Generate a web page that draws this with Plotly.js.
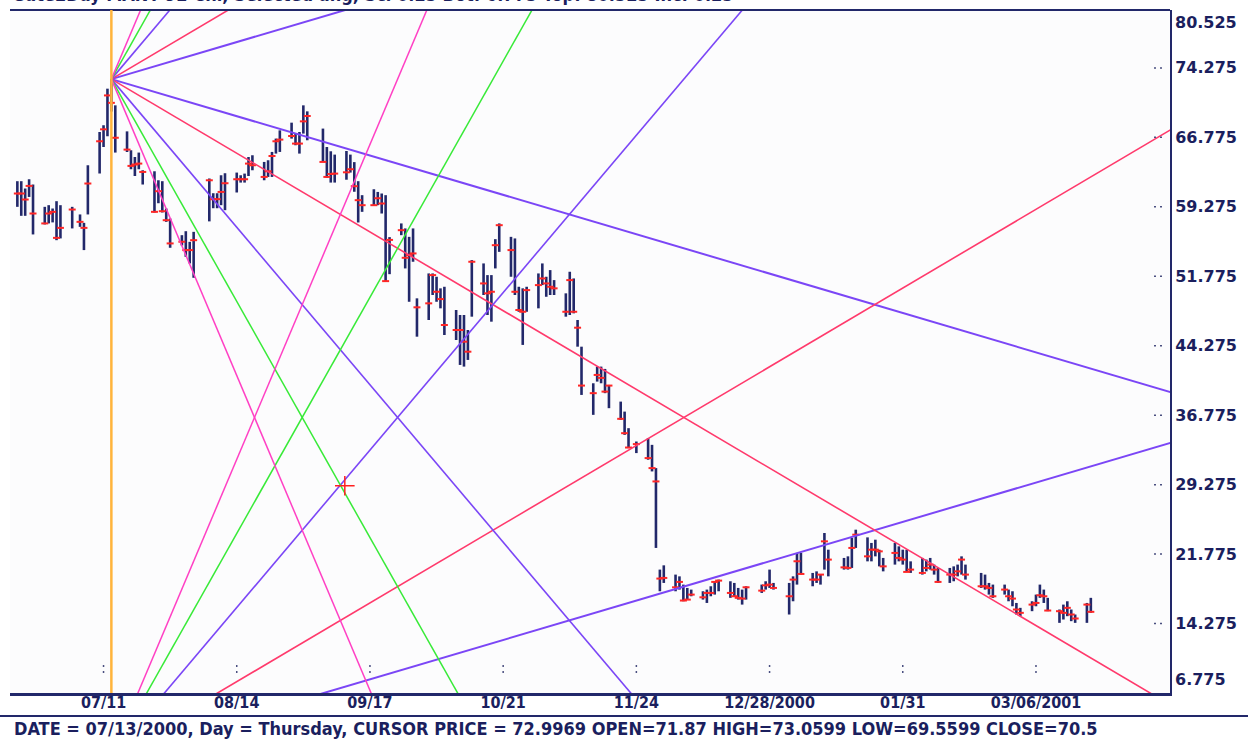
<!DOCTYPE html>
<html>
<head>
<meta charset="utf-8">
<script src="https://cdn.plot.ly/plotly-3.0.1.min.js"></script>
<style>
html,body{margin:0;padding:0;background:#ffffff;overflow:hidden;}
#chart{width:1248px;height:740px;}
</style>
</head>
<body>
<div id="chart"></div>
<script>
// ---------------- DATA ----------------
const dates = [
 '2000-06-19','2000-06-20','2000-06-21','2000-06-22','2000-06-23',
 '2000-06-26','2000-06-27','2000-06-28','2000-06-29','2000-06-30',
 '2000-07-03','2000-07-05','2000-07-06','2000-07-07',
 '2000-07-10','2000-07-11','2000-07-12','2000-07-13','2000-07-14',
 '2000-07-17','2000-07-18','2000-07-19','2000-07-20','2000-07-21',
 '2000-07-24','2000-07-25','2000-07-26','2000-07-27','2000-07-28',
 '2000-07-31','2000-08-01','2000-08-02','2000-08-03',
 '2000-08-07','2000-08-08','2000-08-09','2000-08-10','2000-08-11',
 '2000-08-14','2000-08-15','2000-08-16','2000-08-17','2000-08-18',
 '2000-08-21','2000-08-22','2000-08-23','2000-08-24','2000-08-25',
 '2000-08-28','2000-08-29','2000-08-30','2000-08-31','2000-09-01',
 '2000-09-05','2000-09-06','2000-09-07','2000-09-08',
 '2000-09-11','2000-09-12','2000-09-13','2000-09-14','2000-09-15',
 '2000-09-18','2000-09-19','2000-09-20','2000-09-21','2000-09-22',
 '2000-09-25','2000-09-26','2000-09-27','2000-09-28','2000-09-29',
 '2000-10-02','2000-10-03','2000-10-04','2000-10-05','2000-10-06',
 '2000-10-09','2000-10-10','2000-10-11','2000-10-12','2000-10-13',
 '2000-10-16','2000-10-17','2000-10-18','2000-10-19','2000-10-20',
 '2000-10-23','2000-10-24','2000-10-25','2000-10-26','2000-10-27',
 '2000-10-30','2000-10-31','2000-11-01','2000-11-02','2000-11-03',
 '2000-11-06','2000-11-07','2000-11-08','2000-11-09','2000-11-10',
 '2000-11-13','2000-11-14','2000-11-15','2000-11-16','2000-11-17',
 '2000-11-20','2000-11-21','2000-11-22','2000-11-24',
 '2000-11-27','2000-11-28','2000-11-29','2000-11-30','2000-12-01',
 '2000-12-04','2000-12-05','2000-12-06','2000-12-07','2000-12-08',
 '2000-12-11','2000-12-12','2000-12-13','2000-12-14','2000-12-15',
 '2000-12-18','2000-12-19','2000-12-20','2000-12-21','2000-12-22',
 '2000-12-26','2000-12-27','2000-12-28','2000-12-29',
 '2001-01-02','2001-01-03','2001-01-04','2001-01-05',
 '2001-01-08','2001-01-09','2001-01-10','2001-01-11','2001-01-12',
 '2001-01-16','2001-01-17','2001-01-18','2001-01-19',
 '2001-01-22','2001-01-23','2001-01-24','2001-01-25','2001-01-26',
 '2001-01-29','2001-01-30','2001-01-31','2001-02-01','2001-02-02',
 '2001-02-05','2001-02-06','2001-02-07','2001-02-08','2001-02-09',
 '2001-02-12','2001-02-13','2001-02-14','2001-02-15','2001-02-16',
 '2001-02-20','2001-02-21','2001-02-22','2001-02-23',
 '2001-02-26','2001-02-27','2001-02-28','2001-03-01','2001-03-02',
 '2001-03-05','2001-03-06','2001-03-07','2001-03-08','2001-03-09',
 '2001-03-12','2001-03-13','2001-03-14','2001-03-15','2001-03-16',
 '2001-03-19','2001-03-20'
];
const highs = [
 62.04,62.04,61.25,62.25,61.68,
 59.27,59.45,59.09,59.88,59.45,
 59.27,58.45,57.54,63.76,
 67.35,68.08,72.03,73.06,70.23,
 67.42,65.38,64.65,65.13,63.22,
 63.11,62.14,62.04,59.09,58.01,
 56.21,56.64,55.49,56.57,
 62.33,60.74,60.74,62.68,62.90,
 62.97,62.68,62.86,64.65,64.84,
 64.12,64.30,65.20,66.64,67.53,
 68.36,67.18,67.35,70.23,69.58,
 67.72,65.73,65.27,64.91,
 65.30,64.91,64.10,62.04,60.53,
 61.17,60.88,60.71,60.53,56.00,
 57.48,56.94,56.03,56.94,49.39,
 52.08,52.08,51.72,50.47,50.64,
 48.13,47.59,47.59,45.97,53.52,
 53.16,51.90,51.90,55.78,57.48,
 56.03,55.86,50.64,50.47,50.64,
 52.08,53.16,51.72,52.44,51.36,
 49.93,52.26,51.54,47.05,44.17,
 40.22,42.02,42.02,41.77,40.04,
 38.24,37.16,35.37,33.93,
 34.30,33.57,31.06,20.10,20.56,
 19.56,19.37,18.48,18.12,17.94,
 17.76,17.94,18.30,18.84,19.02,
 18.84,18.66,18.12,17.94,18.30,
 18.48,18.84,20.10,18.66,
 18.66,19.37,21.90,21.90,
 19.74,19.91,19.56,24.05,22.25,
 21.36,21.53,23.51,24.41,
 23.58,22.98,23.33,22.25,21.36,
 22.98,22.61,22.25,22.25,20.99,
 21.36,21.18,21.36,20.64,20.28,
 20.28,20.45,20.64,21.53,20.64,
 19.74,19.56,18.66,18.48,
 18.48,17.94,17.76,16.50,15.97,
 16.68,17.40,18.48,17.94,17.05,
 15.79,16.32,16.68,15.79,15.25,
 16.50,17.05
];
const lows = [
 59.27,58.30,58.30,60.34,56.29,
 57.37,57.48,57.59,55.67,55.86,
 56.94,57.11,54.60,58.45,
 62.87,65.73,66.89,69.56,65.13,
 65.19,63.33,62.60,63.33,61.68,
 58.66,59.66,58.66,57.65,54.85,
 55.10,53.87,53.16,51.61,
 57.70,59.12,59.12,59.45,58.91,
 60.82,61.89,61.89,62.60,63.22,
 62.14,62.50,62.50,65.02,65.20,
 66.64,65.92,65.02,67.18,66.46,
 64.12,62.39,61.89,61.89,
 62.20,62.97,60.90,57.58,58.73,
 59.38,59.45,58.55,51.18,52.00,
 56.21,52.62,49.02,53.34,45.25,
 47.05,49.75,49.02,48.31,45.43,
 44.89,42.20,42.02,42.74,47.41,
 49.75,47.59,46.87,52.62,54.41,
 51.72,49.75,47.94,44.36,47.94,
 48.31,50.82,49.56,49.75,49.75,
 47.41,47.59,47.77,44.17,38.96,
 36.81,40.40,40.22,39.15,37.53,
 36.27,34.65,33.22,32.68,
 31.96,30.70,22.44,17.76,18.66,
 17.76,17.94,16.68,16.86,17.22,
 16.86,16.50,17.22,17.40,17.76,
 17.05,17.22,16.86,16.32,16.86,
 17.58,17.94,18.12,17.94,
 15.25,16.68,18.48,19.56,
 18.30,18.66,18.48,20.10,19.37,
 20.10,20.10,20.28,22.44,
 20.99,20.99,21.53,20.45,19.91,
 20.64,20.99,20.64,19.91,19.74,
 19.56,19.91,20.10,19.56,18.66,
 18.66,18.84,19.37,19.56,19.02,
 18.12,17.94,17.40,17.05,
 17.40,16.68,16.14,15.25,15.07,
 15.61,16.14,17.05,16.50,15.61,
 14.35,14.71,15.07,14.53,14.35,
 14.35,15.43
];
const closes = [
 60.71,60.71,60.06,61.53,58.55,
 57.48,58.55,58.73,55.92,57.00,
 58.98,57.65,57.00,61.79,
 66.35,67.64,71.30,70.50,66.73,
 65.45,63.69,63.84,63.94,63.04,
 58.73,60.96,58.80,57.83,55.32,
 55.50,54.60,54.60,55.67,
 62.14,60.09,60.10,60.88,61.82,
 62.25,62.25,62.25,63.94,63.76,
 62.50,63.11,64.76,66.35,66.53,
 66.92,66.10,66.10,68.50,69.08,
 64.12,62.50,62.82,62.86,
 63.00,63.33,61.50,59.99,59.45,
 59.45,60.20,59.63,51.25,55.70,
 56.75,53.77,54.06,54.24,48.42,
 48.85,51.90,50.10,49.31,46.51,
 45.97,45.97,44.71,43.63,53.34,
 51.00,49.93,50.10,55.13,57.29,
 54.60,50.10,48.13,47.94,50.28,
 50.82,51.54,51.00,50.64,50.47,
 47.94,51.36,47.94,46.22,39.97,
 39.15,41.12,40.80,39.32,39.97,
 36.38,34.83,33.28,33.65,
 32.14,31.06,29.62,19.13,19.20,
 18.19,18.77,16.76,16.86,17.40,
 17.11,17.58,17.58,18.77,18.91,
 17.58,17.22,17.05,16.97,18.19,
 17.83,18.40,18.48,18.12,
 17.22,19.02,21.00,19.63,
 19.02,19.02,19.56,23.15,21.18,
 20.34,20.28,22.44,23.87,
 21.53,22.25,22.25,22.07,20.45,
 21.90,21.36,21.18,19.85,20.10,
 19.74,20.28,20.64,20.10,18.77,
 19.56,19.56,19.91,21.18,19.56,
 18.30,18.30,18.12,17.22,
 17.94,17.22,16.97,15.79,15.43,
 16.32,16.50,17.33,17.22,15.68,
 15.61,15.43,15.97,15.25,14.82,
 16.32,15.54
];

// Gann fans: top fan from the 07/13/2000 high, bottom fan from price 0 on the same date
const pivotDate = '2000-07-13';
const pivotPrice = 73.06;
const baseDate = '2000-07-13';
const basePrice = 0;
const gannSlopes = [0.125, 0.25, 0.5, 0.75, 1.0];          // price per day: 1x2, 1x1, 2x1, 3x1, 4x1
const gannColors = ['#7b46f6', '#ff3a6c', '#7b46f6', '#38ea38', '#ff40c4'];
const gannWidths = [2, 1.6, 1.6, 1.5, 1.5];

const xTickVals = ['2000-07-11','2000-08-14','2000-09-17','2000-10-21','2000-11-24','2000-12-28','2001-01-31','2001-03-06'];
const xTickText = ['07/11','08/14','09/17','10/21','11/24','12/28/2000','01/31','03/06/2001'];
const yTickVals = [14.275, 21.775, 29.275, 36.775, 44.275, 51.775, 59.275, 66.775, 74.275];
const yMin = 6.775, yMax = 80.525;
const xRange = ['2000-06-17 03:00', '2001-04-09 05:00'];
const cursorDate = '2000-09-10 14:00', cursorPrice = 29.15;
const titleText = 'Gate2Day MANT 92 Chl, Selected ang, Scl 0.25 Bot: 6.775 Top: 80.525 Inc: 0.25';
const statusText = 'DATE = 07/13/2000, Day = Thursday, CURSOR PRICE = 72.9969 OPEN=71.87 HIGH=73.0599 LOW=69.5599 CLOSE=70.5';

// ---------------- BUILD ----------------
function addDays(s, n) {
  const t = Date.parse(s + 'T00:00:00Z') + n * 86400000;
  return new Date(t).toISOString().slice(0, 16).replace('T', ' ');
}

const NAVY = '#22286a';
const TXT = '#1b1f5e';
const narrow = 'Liberation Sans Narrow, Arial Narrow, DejaVu Sans Condensed, sans-serif';

const traces = [];

// high-low bars
const bx = [], by = [];
for (let i = 0; i < dates.length; i++) {
  bx.push(dates[i], dates[i], null);
  by.push(highs[i], lows[i], null);
}
traces.push({type: 'scatter', mode: 'lines', x: bx, y: by, connectgaps: false,
  line: {color: NAVY, width: 2.6}, hoverinfo: 'skip'});

// close ticks
traces.push({type: 'scatter', mode: 'markers', x: dates, y: closes,
  marker: {symbol: 'line-ew', size: 5, color: '#ff2626', line: {color: '#ff2626', width: 2}},
  hoverinfo: 'skip'});

// fan lines
const span = 420;
gannSlopes.forEach((s, k) => {
  [1, -1].forEach(dir => {
    traces.push({type: 'scatter', mode: 'lines',
      x: [pivotDate, addDays(pivotDate, span)],
      y: [pivotPrice, pivotPrice + dir * s * span],
      line: {color: gannColors[k], width: gannWidths[k]}, hoverinfo: 'skip'});
  });
  traces.push({type: 'scatter', mode: 'lines',
    x: [baseDate, addDays(baseDate, span)],
    y: [basePrice, basePrice + s * span],
    line: {color: gannColors[k], width: gannWidths[k]}, hoverinfo: 'skip'});
});

// cursor cross
traces.push({type: 'scatter', mode: 'markers', x: [cursorDate], y: [cursorPrice],
  marker: {symbol: 'cross-thin', size: 14, color: '#ff2020', line: {color: '#ff2020', width: 1.5}},
  hoverinfo: 'skip'});

// shapes
const plotL = 10, plotR = 1170, plotT = 10, plotB = 693;
const pw = plotR - plotL, ph = plotB - plotT;
const shapes = [];
// top frame line
shapes.push({type: 'line', xref: 'paper', yref: 'paper', x0: 0, x1: 1, y0: 1, y1: 1,
  line: {color: NAVY, width: 2}});
// cursor vertical line
shapes.push({type: 'line', xref: 'x', yref: 'paper', x0: pivotDate, x1: pivotDate, y0: 0, y1: 1,
  line: {color: '#ffb43c', width: 2.5}});
// dotted y ticks
yTickVals.forEach(v => shapes.push({type: 'line', xref: 'paper', yref: 'y',
  x0: (1154 - plotL) / pw, x1: (1166 - plotL) / pw, y0: v, y1: v,
  line: {color: '#4a4f80', width: 1.5, dash: '2px,4px'}}));
// dotted x ticks
xTickVals.forEach(v => shapes.push({type: 'line', xref: 'x', yref: 'paper',
  x0: v, x1: v, y0: (plotB - 673) / ph, y1: (plotB - 662) / ph,
  line: {color: '#4a4f80', width: 1.5, dash: '2px,4px'}}));
// separator above status line
shapes.push({type: 'line', xref: 'paper', yref: 'paper',
  x0: (0 - plotL) / pw, x1: (1248 - plotL) / pw,
  y0: (plotB - 716) / ph, y1: (plotB - 716) / ph,
  line: {color: NAVY, width: 2}});

const annotations = [
  {xref: 'paper', yref: 'y', x: 1, y: yMax, xanchor: 'left', yanchor: 'middle', xshift: 3, yshift: -12,
   text: yMax.toFixed(3), showarrow: false,
   font: {family: 'DejaVu Sans', size: 16, color: TXT, weight: 'bold'}},
  {xref: 'paper', yref: 'y', x: 1, y: yMin, xanchor: 'left', yanchor: 'middle', xshift: 3, yshift: 14,
   text: yMin.toFixed(3), showarrow: false,
   font: {family: 'DejaVu Sans', size: 16, color: TXT, weight: 'bold'}},
  {xref: 'paper', yref: 'paper', x: 0, y: 1, xanchor: 'left', yanchor: 'bottom', yshift: 3,
   text: titleText, showarrow: false,
   font: {family: narrow, size: 18, color: TXT, weight: 'bold'}},
  {xref: 'paper', yref: 'paper', x: (12 - plotL) / pw, y: (plotB - 728) / ph,
   xanchor: 'left', yanchor: 'middle', text: statusText, showarrow: false,
   font: {family: narrow, size: 18, color: TXT, weight: 'bold'}}
];

const layout = {
  width: 1248, height: 740,
  margin: {l: plotL, r: 1248 - plotR, t: plotT, b: 740 - plotB, pad: 0},
  paper_bgcolor: '#ffffff', plot_bgcolor: '#fcfcfd',
  showlegend: false,
  xaxis: {type: 'date', range: xRange, tickvals: xTickVals, ticktext: xTickText,
    ticks: '', showgrid: false, zeroline: false, showline: true, linecolor: NAVY, linewidth: 3,
    ticklabelstandoff: -7,
    tickfont: {family: narrow, size: 16, color: TXT, weight: 'bold'}, fixedrange: true},
  yaxis: {range: [yMin, yMax], side: 'right', tickvals: yTickVals,
    ticktext: yTickVals.map(v => v.toFixed(3)), ticks: '', showgrid: false, zeroline: false,
    showline: true, linecolor: NAVY, linewidth: 2,
    tickfont: {family: 'DejaVu Sans', size: 16, color: TXT, weight: 'bold'}, fixedrange: true},
  shapes: shapes,
  annotations: annotations
};

Plotly.newPlot('chart', traces, layout, {staticPlot: true, displayModeBar: false});
</script>
</body>
</html>
